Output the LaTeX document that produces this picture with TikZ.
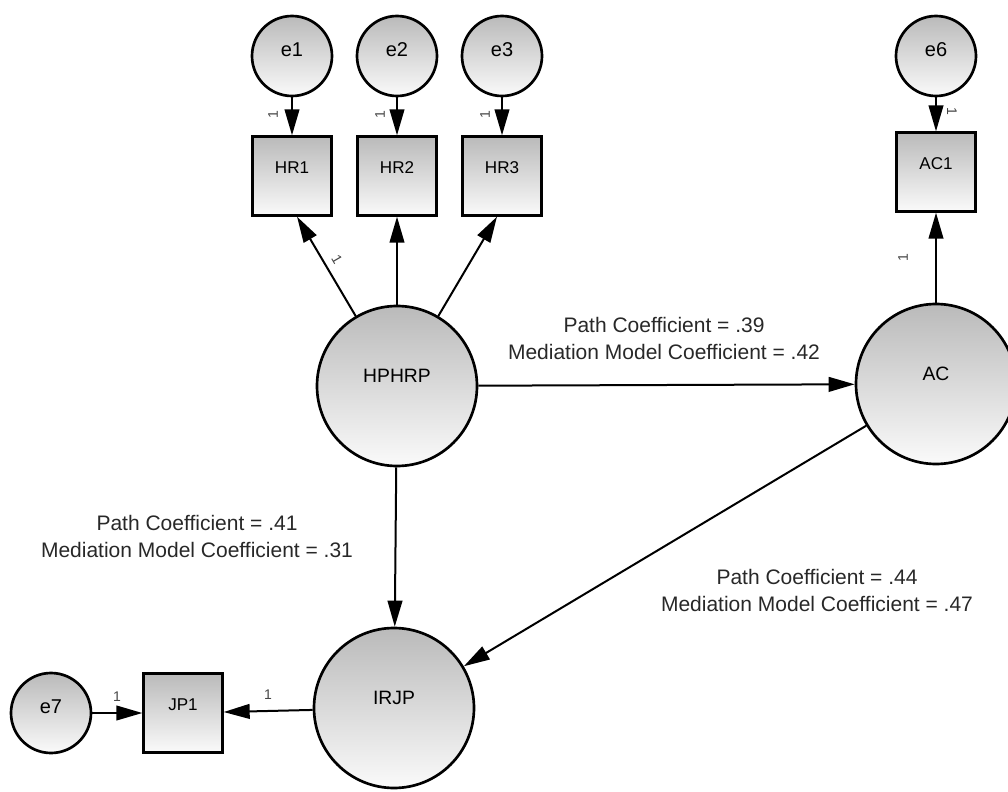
\documentclass[tikz,border=0pt]{standalone}
\usepackage{fontspec}
\setmainfont{Liberation Sans}
\usetikzlibrary{arrows.meta,calc}
\definecolor{shadetop}{RGB}{186,186,186}
\definecolor{shadebot}{RGB}{250,250,250}
\definecolor{coefgray}{RGB}{40,40,40}
\definecolor{onegray}{RGB}{70,70,70}
\begin{document}
\begin{tikzpicture}[x=0.75pt,y=-0.75pt,
  errvar/.style={circle, draw, line width=2pt, minimum size=60pt, inner sep=0pt,
    top color=shadetop, bottom color=shadebot,
    font=\fontsize{15}{15}\selectfont, text height=10.8pt, text depth=10pt},
  latent/.style={circle, draw, line width=2pt, minimum size=120pt, inner sep=0pt,
    top color=shadetop, bottom color=shadebot,
    font=\fontsize{14.5}{14.5}\selectfont, text height=10.4pt, text depth=15pt},
  observed/.style={rectangle, draw, line width=2pt, minimum width=59pt, minimum height=59pt,
    inner sep=0pt, top color=shadetop, bottom color=shadebot,
    font=\fontsize{12.8}{12.8}\selectfont, text height=9.2pt, text depth=13pt},
  regpath/.style={-{Triangle[length=19.5pt,width=11pt]}, line width=1.5pt},
  onelabel/.style={font=\fontsize{10.5}{10.5}\selectfont, text=onegray, inner sep=0pt},
  coef/.style={font=\fontsize{15.75}{20.25}\selectfont, text=coefgray, align=center, inner sep=0pt}]

\useasboundingbox (0,0) rectangle (1008,792);
\clip (0,0) rectangle (1008,792);

% error terms
\node[errvar] (e1) at (292,56) {e1};
\node[errvar] (e2) at (397,56) {e2};
\node[errvar] (e3) at (502,56) {e3};
\node[errvar] (e6) at (936,56) {e6};
\node[errvar] (e7) at (51,713) {e7};

% observed indicators
\node[observed] (hr1) at (292,176) {HR1};
\node[observed] (hr2) at (397,176) {HR2};
\node[observed] (hr3) at (502,176) {HR3};
\node[observed] (ac1) at (936,172) {AC1};
\node[observed] (jp1) at (183,713) {JP1};

% latent constructs
\node[latent] (hp) at (397,386) {HPHRP};
\node[latent] (ac) at (936,384) {AC};
\node[latent] (irjp) at (394,708) {IRJP};

% error paths
\draw[regpath] (e1) -- (hr1);
\draw[regpath] (e2) -- (hr2);
\draw[regpath] (e3) -- (hr3);
\draw[regpath] (e6) -- (ac1);
\draw[regpath] (e7) -- (jp1);

% loadings
\draw[regpath] (hp) -- ($(hr1.south)+(5,0)$);
\draw[regpath] (hp) -- (hr2);
\draw[regpath] (hp) -- ($(hr3.south)+(-5,0)$);
\draw[regpath] (ac) -- (ac1);
\draw[regpath] (irjp) -- (jp1);

% structural paths
\draw[regpath] (hp) -- (ac);
\draw[regpath] (hp) -- (irjp);
\draw[regpath] (ac) -- (irjp);

% fixed weights
\node[onelabel, rotate=90] (w1) at (273,115) {1};
\node[onelabel, rotate=90] (w2) at (380,115) {1};
\node[onelabel, rotate=90] (w3) at (485,115) {1};
\node[onelabel, rotate=-90] (w6) at (952,111) {1};
\node[onelabel, rotate=-60] (wl1) at (337,259) {1};
\node[onelabel, rotate=90] (wac) at (903,258) {1};
\node[onelabel] (wjp) at (268,695) {1};
\node[onelabel] (we7) at (117,697) {1};

% coefficients
\node[coef] (c1) at (664,338) {Path Coefficient = .39\\Mediation Model Coefficient = .42};
\node[coef] (c2) at (197,536) {Path Coefficient = .41\\Mediation Model Coefficient = .31};
\node[coef] (c3) at (817,590) {Path Coefficient = .44\\Mediation Model Coefficient = .47};
\end{tikzpicture}
\end{document}
